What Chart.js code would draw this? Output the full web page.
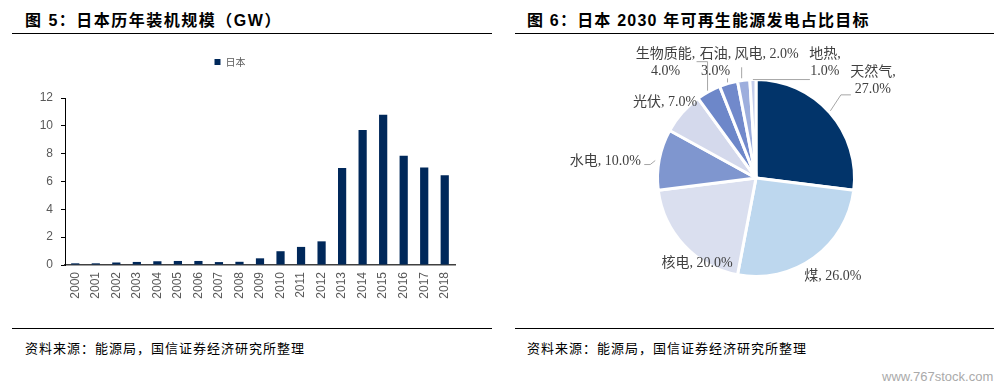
<!DOCTYPE html>
<html>
<head>
<meta charset="utf-8">
<script src="https://cdn.jsdelivr.net/npm/chart.js@4.4.1/dist/chart.umd.min.js"></script>
<style>
  html, body { margin: 0; padding: 0; background: #fff; }
  body { width: 1002px; height: 389px; position: relative; overflow: hidden; }
  .title { position: absolute; top: 7px; font: bold 16px "Liberation Sans", "Noto Sans CJK SC", sans-serif; color: #000; white-space: nowrap; }
  .rule { position: absolute; height: 1px; background: #000; }
  .source { position: absolute; top: 338px; font: 13px "Noto Sans CJK SC", sans-serif; letter-spacing: 1px; color: #000; white-space: nowrap; }
  .wm { position: absolute; left: 882px; top: 369px; font: 13px "Liberation Sans", sans-serif; color: #aaa; }
  .box { position: absolute; }
</style>
</head>
<body>

<div class="title" style="left:25px; letter-spacing:1.5px;">图 5：日本历年装机规模（GW）</div>
<div class="rule" style="left:12px; top:33px; width:480px;"></div>
<div class="box" style="left:5px; top:40px; width:452px; height:280px;"><canvas id="barChart"></canvas></div>
<div class="rule" style="left:12px; top:328px; width:480px;"></div>
<div class="source" style="left:25px;">资料来源：能源局，国信证券经济研究所整理</div>

<div class="title" style="left:527px; letter-spacing:1.2px;">图 6：日本 2030 年可再生能源发电占比目标</div>
<div class="rule" style="left:515px; top:33px; width:479px;"></div>
<div class="box" style="left:515px; top:40px; width:479px; height:280px;"><canvas id="pieChart"></canvas></div>
<div class="rule" style="left:515px; top:328px; width:479px;"></div>
<div class="source" style="left:527px;">资料来源：能源局，国信证券经济研究所整理</div>
<div class="wm">www.767stock.com</div>

<script>
// ---- 图5 数据 ----
const years = ['2000','2001','2002','2003','2004','2005','2006','2007','2008','2009',
               '2010','2011','2012','2013','2014','2015','2016','2017','2018'];
const capacity = [0.12, 0.12, 0.18, 0.22, 0.27, 0.29, 0.29, 0.21, 0.23, 0.48,
                  0.99, 1.3, 1.7, 6.97, 9.7, 10.8, 7.85, 7.0, 6.45];
const yTicks = [0, 2, 4, 6, 8, 10, 12];

// ---- 图6 数据 ----
const sources = ['天然气', '煤', '核电', '水电', '光伏', '生物质能', '石油', '风电', '地热'];
const shares = [27, 26, 20, 10, 7, 4, 3, 2, 1];

const sliceColors = ['#02346A', '#BDD7EE', '#DADFEF', '#7F96CF', '#D4D9EC',
                     '#6D87C9', '#7189CB', '#9DAEDD', '#C5CEEB'];

// label placement relative to the outer edge at each slice's mid angle
const labelLayout = [
  { dx: 43,  dy: -41, split: true,  lead: [[0.5, -2], [11, -18], [21, -18]] },
  { dx: 19,  dy: 19,  split: false, lead: null },
  { dx: 13,  dy: 18,  split: false, lead: null },
  { dx: -54, dy: 2,   split: false, lead: [[-4, 1], [-9, 5], [-15, 5]] },
  { dx: -17, dy: -11, split: false, lead: null },
  { dx: -43, dy: -37, split: true,  lead: [[-1, -1], [-1, -30], [-12, -30]] },
  { dx: -13, dy: -29, split: true,  lead: [[-1, -1], [-1, -5]] },
  { dx: 23,  dy: -26, split: false, lead: [[-2, -2], [-2, -13]] },
  { dx: 72,  dy: -25, split: true,  lead: [[0, 0], [57, 0]] }
];

// 图例与绘图区之间留出空间
const legendGap = {
  id: 'legendGap',
  beforeLayout(chart) {
    const lg = chart.legend;
    if (lg && !lg._gapWrapped) {
      const fit = lg.fit;
      lg.fit = function () { fit.call(this); this.height = 51; };
      lg._gapWrapped = true;
    }
  }
};

new Chart(document.getElementById('barChart'), {
  type: 'bar',
  data: {
    labels: years,
    datasets: [{
      label: '日本',
      data: capacity,
      backgroundColor: '#00285A',
      barPercentage: 0.4,
      categoryPercentage: 1.0
    }]
  },
  options: {
    responsive: true, maintainAspectRatio: false,
    animation: false,
    layout: { padding: { top: 7, right: 2, left: 0, bottom: 0 } },
    plugins: {
      legend: {
        display: true, position: 'top',
        labels: {
          boxWidth: 6, boxHeight: 6, padding: 10,
          color: '#595959',
          font: { size: 10, family: '"Noto Sans CJK SC", sans-serif' }
        }
      },
      tooltip: { enabled: false }
    },
    scales: {
      x: {
        grid: { display: true, drawOnChartArea: false, drawTicks: false },
        border: { display: true, color: '#404040', width: 1.5 },
        ticks: {
          minRotation: 90, maxRotation: 90, padding: 7,
          color: '#595959',
          font: { size: 12, family: '"Liberation Sans", Arial, sans-serif' }
        },
        afterFit(scale) { scale.height = 55; scale.paddingLeft = 0; scale.paddingRight = 0; }
      },
      y: {
        min: 0, max: 12,
        afterBuildTicks(scale) { scale.ticks = yTicks.map(v => ({ value: v })); },
        grid: { display: true, drawOnChartArea: false, drawTicks: true, tickLength: 4, color: '#000' },
        border: { display: true, color: '#000', width: 1 },
        ticks: {
          padding: 8,
          color: '#595959',
          font: { size: 12, family: '"Liberation Sans", Arial, sans-serif' }
        },
        afterFit(scale) { scale.width = 60; }
      }
    }
  },
  plugins: [legendGap]
});

// 饼图外侧标签及引线
const pieLabels = {
  id: 'pieLabels',
  afterDraw(chart) {
    const ctx = chart.ctx;
    const arcs = chart.getDatasetMeta(0).data;
    ctx.save();
    ctx.font = '14px "Liberation Serif", "Noto Sans CJK SC", serif';
    ctx.fillStyle = '#404040';
    ctx.textAlign = 'center';
    ctx.textBaseline = 'middle';
    ctx.strokeStyle = '#A6A6A6';
    ctx.lineWidth = 1;
    arcs.forEach((arc, i) => {
      const p = arc.getProps(['x', 'y', 'startAngle', 'endAngle', 'outerRadius'], true);
      const mid = (p.startAngle + p.endAngle) / 2;
      const ex = p.x + Math.cos(mid) * p.outerRadius;
      const ey = p.y + Math.sin(mid) * p.outerRadius;
      const lay = labelLayout[i];
      const pct = shares[i].toFixed(1) + '%';
      if (lay.lead) {
        ctx.beginPath();
        lay.lead.forEach((pt, k) => {
          if (k === 0) ctx.moveTo(ex + pt[0], ey + pt[1]);
          else ctx.lineTo(ex + pt[0], ey + pt[1]);
        });
        ctx.stroke();
      }
      const tx = ex + lay.dx, ty = ey + lay.dy;
      if (lay.split) {
        ctx.fillText(sources[i] + ',', tx, ty);
        ctx.fillText(pct, tx, ty + 17);
      } else {
        ctx.fillText(sources[i] + ', ' + pct, tx, ty);
      }
    });
    ctx.restore();
  }
};

new Chart(document.getElementById('pieChart'), {
  type: 'pie',
  data: {
    labels: sources,
    datasets: [{
      data: shares,
      backgroundColor: sliceColors,
      borderColor: '#ffffff',
      borderWidth: 3
    }]
  },
  options: {
    responsive: true, maintainAspectRatio: false,
    animation: false,
    layout: { padding: { left: 141, right: 138, top: 38, bottom: 42 } },
    plugins: {
      legend: { display: false },
      tooltip: { enabled: false }
    }
  },
  plugins: [pieLabels]
});
</script>
</body>
</html>
